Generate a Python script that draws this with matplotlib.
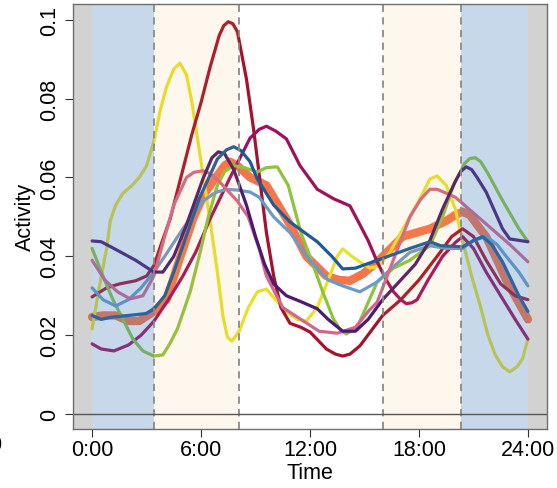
import numpy as np
import matplotlib
matplotlib.use('Agg')
import matplotlib.pyplot as plt

plt.rcParams['font.family'] = ['Liberation Sans', 'DejaVu Sans']

# hour of day / activity
t_orange = [0, 0.6, 1.3, 2, 2.6, 3.4, 4.1, 4.8, 5.6, 6.2, 6.9, 7.3, 7.6, 8.0, 8.7, 9.6, 10.9, 11.8, 12.9, 13.6, 14.2, 14.9, 15.7, 17.1, 18.6, 19.5, 20.0, 20.4, 20.8, 21.2, 21.7, 22.3, 22.8, 23.4, 24]
a_orange = [0.0246, 0.025, 0.025, 0.0236, 0.0236, 0.026, 0.029, 0.039, 0.050, 0.056, 0.0605, 0.0630, 0.0640, 0.0630, 0.060, 0.058, 0.048, 0.040, 0.035, 0.0340, 0.0338, 0.0355, 0.0386, 0.045, 0.047, 0.049, 0.0505, 0.0513, 0.0505, 0.048, 0.045, 0.039, 0.034, 0.029, 0.024]

t_yellow = [0, 0.45, 0.8, 1.0, 1.3, 1.7, 2.2, 2.6, 3.0, 3.4, 3.75, 4.1, 4.5, 4.84, 5.2, 5.5, 5.8, 6.1, 6.5, 6.9, 7.2, 7.45, 7.7, 8.1, 8.6, 9.1, 9.6, 10.1, 10.7, 11.3, 11.8, 12.4, 13.0, 13.5, 13.8, 14.3, 14.75, 15.3, 15.8, 16.4, 17.0, 17.5, 18.1, 18.6, 19.0, 19.5, 20.0, 20.4, 20.9, 21.4, 21.8, 22.2, 22.6, 23.0, 23.4, 23.7, 24.0]
a_yellow = [0.0216, 0.0335, 0.042, 0.049, 0.053, 0.056, 0.058, 0.060, 0.063, 0.069, 0.077, 0.083, 0.0875, 0.089, 0.086, 0.079, 0.070, 0.061, 0.049, 0.036, 0.025, 0.0195, 0.0185, 0.021, 0.027, 0.031, 0.0317, 0.029, 0.026, 0.024, 0.0236, 0.027, 0.034, 0.040, 0.0419, 0.040, 0.0386, 0.037, 0.0376, 0.041, 0.046, 0.050, 0.055, 0.0596, 0.0604, 0.058, 0.052, 0.044, 0.035, 0.027, 0.020, 0.015, 0.012, 0.0107, 0.012, 0.014, 0.019]

t_darkred = [0, 0.8, 1.5, 2.4, 3.0, 3.4, 3.8, 4.3, 5.0, 5.5, 6.0, 6.5, 7.0, 7.25, 7.5, 7.75, 8.0, 8.5, 8.9, 9.25, 9.6, 10.0, 10.4, 10.9, 11.5, 12.0, 12.9, 13.4, 13.8, 14.2, 14.75, 16.0, 17.0, 18.0, 19.0, 19.8, 20.4, 21.0, 21.7, 22.5, 23.3, 24.0]
a_darkred = [0.0297, 0.032, 0.033, 0.0338, 0.035, 0.0376, 0.043, 0.0495, 0.062, 0.071, 0.079, 0.088, 0.096, 0.0985, 0.0995, 0.0990, 0.097, 0.085, 0.072, 0.059, 0.046, 0.035, 0.027, 0.023, 0.022, 0.0208, 0.0165, 0.0152, 0.0147, 0.0152, 0.0173, 0.025, 0.029, 0.034, 0.040, 0.045, 0.047, 0.045, 0.039, 0.033, 0.030, 0.029]

t_crimson = [0, 0.5, 1.2, 2.0, 2.7, 3.4, 4.2, 5.0, 5.7, 6.5, 7.6, 8.7, 9.2, 9.6, 10.1, 10.7, 11.45, 12.4, 13.3, 14.2, 14.75, 15.2, 15.7, 16.2, 16.6, 17.0, 17.3, 17.6, 17.9, 18.5, 19.3, 20.0, 20.4, 21.0, 21.7, 22.5, 23.3, 24.0]
a_crimson = [0.0178, 0.0165, 0.016, 0.0175, 0.020, 0.0235, 0.029, 0.035, 0.041, 0.0495, 0.060, 0.070, 0.0722, 0.073, 0.0718, 0.0698, 0.063, 0.057, 0.0546, 0.0528, 0.048, 0.044, 0.0386, 0.034, 0.031, 0.0290, 0.028, 0.0282, 0.029, 0.034, 0.040, 0.0435, 0.045, 0.042, 0.036, 0.030, 0.024, 0.019]

t_green = [0, 0.6, 1.15, 1.7, 2.25, 2.8, 3.4, 3.9, 4.3, 4.7, 5.4, 5.95, 6.4, 6.9, 7.3, 7.8, 8.4, 9.1, 9.6, 10.2, 10.8, 11.5, 12.0, 12.7, 13.3, 13.7, 14.0, 14.6, 15.7, 16.6, 17.5, 18.6, 19.3, 19.9, 20.5, 20.8, 21.1, 21.4, 21.8, 22.5, 23.5, 24.0]
a_green = [0.042, 0.035, 0.029, 0.024, 0.019, 0.016, 0.0147, 0.015, 0.018, 0.0216, 0.031, 0.041, 0.050, 0.058, 0.0615, 0.063, 0.0625, 0.0614, 0.0625, 0.0627, 0.058, 0.046, 0.040, 0.031, 0.024, 0.0212, 0.0203, 0.022, 0.0335, 0.037, 0.039, 0.0427, 0.050, 0.058, 0.0635, 0.0648, 0.065, 0.0640, 0.061, 0.055, 0.047, 0.0437]

t_blue = [0, 0.5, 1, 2, 3, 3.4, 4, 4.5, 5, 5.9, 6.9, 7.4, 7.8, 8.2, 8.7, 9.1, 10, 10.9, 12.4, 13.2, 13.8, 14.5, 15.7, 17.5, 18.6, 19.2, 20.4, 21.0, 21.5, 22.0, 22.6, 23.5, 24]
a_blue = [0.025, 0.024, 0.0245, 0.025, 0.0255, 0.0266, 0.030, 0.036, 0.0426, 0.0546, 0.0647, 0.0670, 0.0678, 0.0668, 0.064, 0.0596, 0.053, 0.0487, 0.0437, 0.040, 0.0368, 0.037, 0.039, 0.042, 0.0437, 0.0427, 0.0424, 0.044, 0.045, 0.043, 0.0386, 0.030, 0.026]

t_ltblue = [0, 0.6, 1.3, 2, 2.7, 3.4, 4, 5, 6.1, 6.8, 7.4, 8.0, 8.7, 9.2, 10, 10.9, 12, 13, 13.8, 14.75, 15.7, 16.5, 17.5, 18.6, 19.5, 20.4, 21, 21.7, 22.3, 22.8, 23.5, 24]
a_ltblue = [0.032, 0.029, 0.0274, 0.029, 0.032, 0.036, 0.040, 0.047, 0.054, 0.0562, 0.057, 0.0568, 0.0563, 0.055, 0.050, 0.046, 0.039, 0.034, 0.0325, 0.031, 0.0335, 0.037, 0.041, 0.0427, 0.042, 0.042, 0.044, 0.045, 0.043, 0.040, 0.036, 0.0325]

t_purple = [0, 0.5, 1.2, 2.4, 3.4, 3.9, 4.5, 5.2, 6.1, 6.6, 6.95, 7.3, 7.8, 8.5, 9.0, 9.5, 10.0, 10.7, 11.5, 12.4, 13.0, 13.8, 14.5, 15.2, 16.0, 17.0, 17.8, 18.6, 19.3, 20.0, 20.3, 20.6, 20.9, 21.2, 21.7, 22.6, 23.0, 24.0]
a_purple = [0.0439, 0.0437, 0.042, 0.039, 0.036, 0.036, 0.040, 0.048, 0.0596, 0.0650, 0.0665, 0.0660, 0.062, 0.053, 0.045, 0.038, 0.033, 0.030, 0.0285, 0.0267, 0.024, 0.021, 0.021, 0.024, 0.029, 0.034, 0.038, 0.044, 0.052, 0.059, 0.0615, 0.0627, 0.0620, 0.060, 0.0563, 0.047, 0.0444, 0.0437]

t_pink = [0, 0.7, 1.4, 2.1, 2.8, 3.4, 4.0, 4.5, 5.2, 5.6, 6.1, 6.5, 7.0, 8.0, 8.6, 9.2, 9.6, 10.5, 11.5, 12.5, 13.5, 14.5, 15.2, 15.7, 16.5, 17.5, 18.1, 18.6, 19.0, 20.0, 21.0, 22.0, 23.0, 24.0]
a_pink = [0.039, 0.034, 0.031, 0.0292, 0.030, 0.035, 0.045, 0.053, 0.060, 0.0613, 0.0617, 0.0610, 0.059, 0.054, 0.050, 0.042, 0.035, 0.027, 0.024, 0.021, 0.0205, 0.022, 0.026, 0.0284, 0.038, 0.050, 0.0545, 0.057, 0.057, 0.055, 0.051, 0.047, 0.043, 0.0386]

# light / dark phases (hours)
night_end = 3.4
dawn_end = 8.1
dusk_start = 16.0
night_start = 20.3

xticks = [0, 6, 12, 18, 24]
xticklabels = ['0:00', '6:00', '12:00', '18:00', '24:00']
yticks = [0, 0.02, 0.04, 0.06, 0.08, 0.1]
yticklabels = ['0', '0.02', '0.04', '0.06', '0.08', '0.1']

fig = plt.figure(figsize=(5.57, 4.89), dpi=100)
ax = fig.add_axes([73/557, 1-430/489, 474/557, 425/489])

ax.plot(t_orange, a_orange, color='#F6744A', lw=6.0, solid_capstyle='round', solid_joinstyle='round', zorder=2)
Series = [(t_yellow, a_yellow, '#E8E02A'),
          (t_darkred, a_darkred, '#A6122C'),
          (t_crimson, a_crimson, '#A0105C'),
          (t_green, a_green, '#8CC43C'),
          (t_ltblue, a_ltblue, '#6A9AC8'),
          (t_pink, a_pink, '#D4668C'),
          (t_purple, a_purple, '#4C1A6E'),
          (t_blue, a_blue, '#1E5A98')]
for T, A, C in Series:
    ax.plot(T, A, color=C, lw=2.3, solid_capstyle='round', solid_joinstyle='round', zorder=3)

# shaded phases drawn over the lines (semi-transparent, as in the original)
ax.axvspan(-2, 0, color='#808080', alpha=0.35, lw=0, zorder=4)
ax.axvspan(24, 26, color='#808080', alpha=0.35, lw=0, zorder=4)
ax.axvspan(0, night_end, color='#4880C0', alpha=0.3, lw=0, zorder=4)
ax.axvspan(night_start, 24, color='#4880C0', alpha=0.3, lw=0, zorder=4)
ax.axvspan(night_end, dawn_end, color='#F0AA3C', alpha=0.09, lw=0, zorder=4)
ax.axvspan(dusk_start, night_start, color='#F0AA3C', alpha=0.09, lw=0, zorder=4)
for X in [night_end, dawn_end, dusk_start, night_start]:
    ax.axvline(X, color='#8A8A8A', lw=1.3, ls=(0, (4, 3)), zorder=5)
ax.axhline(0, color='#555555', lw=1.0, zorder=5)

ax.set_xlim(-1.05, 25.05)
ax.set_ylim(-0.0038, 0.104)
ax.set_xticks(xticks)
ax.set_xticklabels(xticklabels)
ax.set_yticks(yticks)
ax.set_yticklabels(yticklabels, rotation=90, va='center')
ax.tick_params(length=5.5, width=0.8, color='#333333', labelsize=15.5)
ax.tick_params(axis='x', pad=2)
ax.tick_params(axis='y', pad=3.5)
for S in ax.spines.values():
    S.set_color('#6E6E6E')
    S.set_linewidth(1.0)
    S.set_zorder(6)

fig.text(25/557, 1-217/489, 'Activity', rotation=90, ha='center', va='center', fontsize=15.5)
fig.text(310/557, 1-474/489, 'Time', ha='center', va='center', fontsize=15.5)
fig.text(-5/557, 1-446/489, '0', ha='center', va='center', fontsize=15.5)

fig.savefig('out.png', dpi=100)
